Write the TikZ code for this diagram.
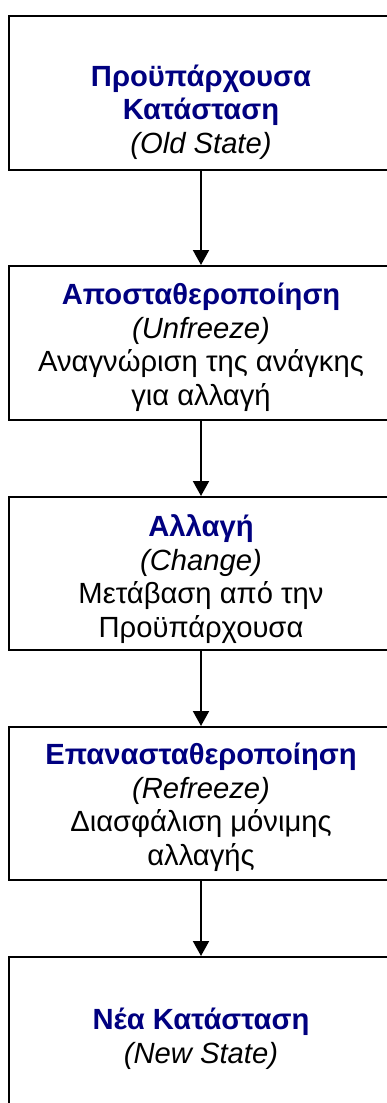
\documentclass[tikz,border=0pt]{standalone}
\usepackage{fontspec}
\setmainfont{Liberation Sans}
\usetikzlibrary{arrows.meta}
\definecolor{titleblue}{RGB}{0,0,128}
\tikzset{
  stagebox/.style={draw=black, line width=2pt, rectangle, minimum width=384pt, inner sep=0pt},
  stagetext/.style={anchor=base, align=center, inner sep=0pt, font=\fontsize{29.2pt}{33.5pt}\selectfont},
  flow/.style={line width=2pt, -{Triangle[width=16pt,length=15pt]}}
}
\newcommand{\ttl}[1]{{\bfseries\color{titleblue}#1}}
\begin{document}
\begin{tikzpicture}[x=1pt,y=-1pt]
  \useasboundingbox (0,0) rectangle (387,1103);
  \clip (0,0) rectangle (387,1103);
  \fill[white] (0,0) rectangle (387,1103);

  % stage frames
  \node[stagebox, minimum height=154pt] (old)      at (201,93)   {};
  \node[stagebox, minimum height=154pt] (unfreeze) at (201,343)  {};
  \node[stagebox, minimum height=153pt] (change)   at (201,573.5){};
  \node[stagebox, minimum height=153pt] (refreeze) at (201,803.5){};
  \node[stagebox, minimum height=154pt] (new)      at (201,1034) {};

  % stage texts (anchored at the baseline of their last line)
  \node[stagetext] (told) at (201,153) {\ttl{Προϋπάρχουσα}\\ \ttl{Κατάσταση}\\ \textit{(Old State)}};
  \node[stagetext] (tunfreeze) at (201,405) {\ttl{Αποσταθεροποίηση}\\ \textit{(Unfreeze)}\\ Αναγνώριση της ανάγκης\\ για αλλαγή};
  \node[stagetext] (tchange) at (201,637) {\ttl{Αλλαγή}\\ \textit{(Change)}\\ Μετάβαση από την\\ Προϋπάρχουσα};
  \node[stagetext] (trefreeze) at (201,865) {\ttl{Επανασταθεροποίηση}\\ \textit{(Refreeze)}\\ Διασφάλιση μόνιμης\\ αλλαγής};
  \node[stagetext] (tnew) at (201,1063) {\ttl{Νέα Κατάσταση}\\ \textit{(New State)}};

  % transitions
  \draw[flow] (old.south) -- (unfreeze.north);
  \draw[flow] (unfreeze.south) -- (change.north);
  \draw[flow] (change.south) -- (refreeze.north);
  \draw[flow] (refreeze.south) -- (new.north);
\end{tikzpicture}
\end{document}
